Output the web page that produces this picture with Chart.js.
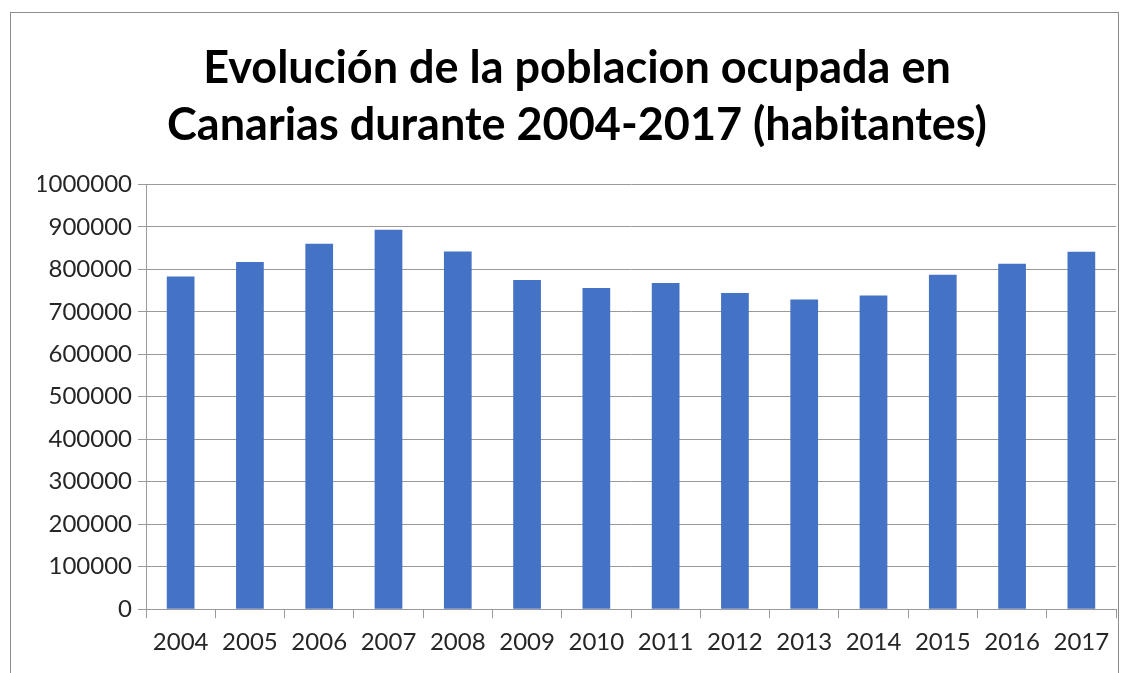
<!DOCTYPE html>
<html>
<head>
<meta charset="utf-8">
<script src="https://cdn.jsdelivr.net/npm/chart.js@4/dist/chart.umd.min.js"></script>
<style>
  html, body { margin: 0; padding: 0; background: #fff; }
  #wrap { position: relative; width: 1134px; height: 673px; }
  #frame { position: absolute; left: 10px; top: 12px; width: 1109px; height: 670px; border: 1px solid #8c8c8c; box-sizing: border-box; }
</style>
</head>
<body>
<div id="wrap">
  <div id="frame"></div>
  <canvas id="chart" width="1134" height="673"></canvas>
</div>
<script>
// Poblacion ocupada en Canarias (habitantes)
var years = ['2004', '2005', '2006', '2007', '2008', '2009', '2010', '2011', '2012', '2013', '2014', '2015', '2016', '2017'];
var ocupados = [783000, 817000, 860000, 893000, 842000, 775000, 756000, 768000, 744000, 729000, 738000, 787000, 813000, 841000];
var titleLines = ['Evolución de la poblacion ocupada en', 'Canarias durante 2004-2017 (habitantes)'];

var font = 'Lato, "Liberation Sans", sans-serif';

new Chart(document.getElementById('chart'), {
    type: 'bar',
    data: {
        labels: years,
        datasets: [{
            data: ocupados,
            backgroundColor: '#4472c4',
            borderWidth: 0,
            categoryPercentage: 1,
            barPercentage: 0.4
        }]
    },
    options: {
        responsive: false,
        animation: false,
        layout: { padding: { top: 40, left: 38, right: 18, bottom: 6 } },
        plugins: {
            legend: { display: false },
            tooltip: { enabled: false },
            title: {
                display: true,
                text: titleLines,
                color: '#000',
                font: { family: font, size: 45, weight: 'bold', lineHeight: 1.27 },
                padding: { top: 0, bottom: 30 }
            }
        },
        scales: {
            y: {
                min: 0, max: 1000000,
                ticks: {
                    stepSize: 100000, color: '#262626', font: { family: font, size: 24 }, padding: 6,
                    callback: function(v) { return String(v); }
                },
                grid: { color: '#9a9a9a', tickLength: 8 },
                border: { color: '#9a9a9a' },
                afterFit: function(scale) { scale.width = 108; }
            },
            x: {
                ticks: { color: '#262626', font: { family: font, size: 24 }, padding: 10 },
                grid: { drawOnChartArea: false, color: '#9a9a9a', tickLength: 9 },
                border: { color: '#9a9a9a' }
            }
        }
    }
});
</script>
</body>
</html>
